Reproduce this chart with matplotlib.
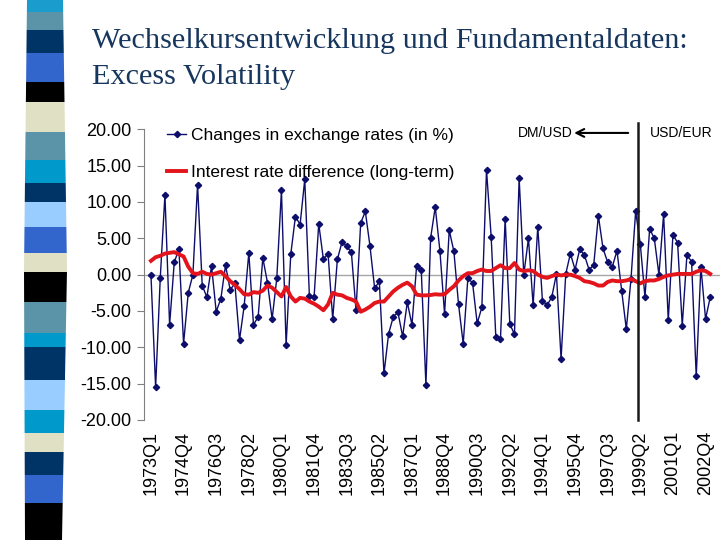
import matplotlib
matplotlib.use("Agg")
import matplotlib.pyplot as plt
import numpy as np
from matplotlib.patches import Polygon

plt.rcParams["font.family"] = ["Liberation Sans", "DejaVu Sans"]
plt.rcParams["axes.unicode_minus"] = False

# quarterly data 1973Q1 .. 2003Q1
QUARTERS = [f"{y}Q{q}" for y in range(1973, 2004) for q in range(1, 5)][:121]

# changes in exchange rates (in %)
FX_CHANGES = [
    0.0, -15.5, -0.4, 11.0, -6.9, 1.7, 3.5, -9.5, -2.5, 0.0,
    12.4, -1.5, -3.1, 1.2, -5.1, -3.3, 1.3, -2.1, -1.2, -9.0,
    -4.3, 3.0, -6.9, -5.8, 2.3, -1.1, -6.1, -0.5, 11.6, -9.7,
    2.8, 8.0, 6.9, 13.1, -3.0, -3.1, 7.0, 2.1, 2.9, -6.1,
    2.1, 4.5, 3.9, 3.1, -4.9, 7.1, 8.7, 3.9, -1.9, -0.9,
    -13.6, -8.1, -5.8, -5.2, -8.5, -3.8, -6.9, 1.2, 0.6, -15.2,
    5.0, 9.3, 3.3, -5.4, 6.1, 3.2, -4.1, -9.5, -0.5, -1.1,
    -6.7, -4.5, 14.4, 5.2, -8.6, -8.8, 7.7, -6.8, -8.2, 13.3,
    0.0, 5.0, -4.2, 6.6, -3.6, -4.2, -3.1, 0.1, -11.6, 0.1,
    2.9, 0.7, 3.5, 2.7, 0.7, 1.3, 8.1, 3.6, 1.7, 1.1,
    3.3, -2.2, -7.5, -0.6, 8.7, 4.2, -3.1, 6.3, 5.0, 0.0,
    8.3, -6.3, 5.5, 4.4, -7.0, 2.7, 1.8, -14.0, 1.1, -6.1,
    -3.1,
]

# interest rate difference (long-term)
RATE_DIFF = [
    1.9, 2.4, 2.6, 2.9, 3.0, 3.1, 2.8, 2.5, 1.1, 0.2,
    0.1, 0.4, 0.1, 0.0, 0.2, 0.4, -0.2, -0.9, -1.4, -2.0,
    -2.7, -2.75, -2.4, -2.5, -2.2, -1.5, -1.8, -2.4, -3.0, -1.7,
    -3.0, -3.7, -3.2, -3.3, -3.7, -4.0, -4.4, -4.9, -4.1, -2.5,
    -2.75, -2.85, -3.2, -3.4, -3.7, -5.1, -4.8, -4.4, -3.9, -3.7,
    -3.7, -3.0, -2.3, -1.8, -1.4, -1.1, -1.6, -2.75, -2.85, -2.85,
    -2.8, -2.7, -2.75, -2.7, -2.1, -1.6, -0.8, -0.2, 0.2, 0.2,
    0.5, 0.7, 0.5, 0.5, 0.9, 1.3, 0.9, 0.9, 1.6, 0.7,
    0.5, 0.6, 0.5, 0.0, -0.3, -0.45, -0.2, 0.0, -0.1, 0.0,
    0.0, -0.2, -0.45, -0.9, -1.0, -1.2, -1.5, -1.5, -1.0, -0.8,
    -0.9, -0.9, -0.8, -0.6, -0.9, -1.2, -0.9, -0.8, -0.8, -0.6,
    -0.3, -0.1, 0.0, 0.1, 0.1, 0.1, 0.1, 0.4, 0.6, 0.5,
    0.1,
]

TICK_STEP = 7
SPLIT_AT = 104.6   # DM/USD -> USD/EUR (1999)

# decorative slide strip: (top px, bottom px, colour)
STRIP = [
    (0, 12, "#1a9ccc"), (12, 30, "#5b93a8"), (30, 53, "#003366"),
    (53, 82, "#3366cc"), (82, 102, "#000000"), (102, 132, "#e0e0c4"),
    (132, 160, "#5b93a8"), (160, 183, "#0099cc"), (183, 202, "#003366"),
    (202, 227, "#99ccff"), (227, 253, "#3366cc"), (253, 272, "#e0e0c4"),
    (272, 302, "#000000"), (302, 333, "#5b93a8"), (333, 347, "#0099cc"),
    (347, 380, "#003366"), (380, 410, "#99ccff"), (410, 433, "#0099cc"),
    (433, 452, "#e0e0c4"), (452, 475, "#003366"), (475, 503, "#3366cc"),
    (503, 540, "#000000"),
]

W, H = 720, 540
fig = plt.figure(figsize=(7.2, 5.4), dpi=100)

# strip edges (slightly bulging)
prof_y = [0, 270, 540]
prof_l = [27, 24, 25]
prof_r = [63, 67, 62]
for top, bot, col in STRIP:
    ys = np.linspace(top, bot, 6)
    xl = np.interp(ys, prof_y, prof_l)
    xr = np.interp(ys, prof_y, prof_r)
    pts = [(x / W, 1 - y / H) for x, y in zip(xl, ys)] + \
          [(x / W, 1 - y / H) for x, y in zip(xr[::-1], ys[::-1])]
    fig.patches.append(Polygon(pts, closed=True, transform=fig.transFigure,
                               facecolor=col, edgecolor="none"))

fig.text(92 / W, 1 - 41 / H, "Wechselkursentwicklung und Fundamentaldaten:",
         family="Liberation Serif", fontsize=21.8, color="#17365d", va="center")
fig.text(92 / W, 1 - 77 / H, "Excess Volatility",
         family="Liberation Serif", fontsize=21.8, color="#17365d", va="center")

ax = fig.add_axes([143.5 / W, 1 - 420 / H, 576.5 / W, 290.7 / H])
x = np.arange(len(FX_CHANGES))

ax.axhline(0, color="#a6a6a6", lw=1, zorder=1)
ax.plot(x, FX_CHANGES, color="#0d0d6b", lw=1, marker="D", ms=3.2,
        label="Changes in exchange rates (in %)", zorder=3)
ax.plot(x, RATE_DIFF, color="#e3141b", lw=2.8,
        label="Interest rate difference (long-term)", zorder=4)

ax.plot([SPLIT_AT, SPLIT_AT], [-20, 20.8], color="#1a1a1a", lw=1.8,
        clip_on=False, zorder=5)
ax.annotate("", xy=(SPLIT_AT - 13.8, 19.5), xytext=(SPLIT_AT - 2.2, 19.5),
            arrowprops=dict(arrowstyle="->", lw=1.5, color="black",
                            shrinkA=0, shrinkB=0, mutation_scale=14),
            annotation_clip=False)
ax.text(SPLIT_AT - 14.2, 19.5, "DM/USD", ha="right", va="center", fontsize=10)
ax.text(SPLIT_AT + 2.5, 19.5, "USD/EUR", ha="left", va="center", fontsize=10)

ax.set_xlim(-1.6, 122.1)
ax.set_ylim(-20, 20)
ax.set_yticks(np.arange(-20, 21, 5))
ax.set_yticklabels([f"{v:.2f}" for v in np.arange(-20, 21, 5)], fontsize=13)
ticks = x[::TICK_STEP][:18]
ax.set_xticks(ticks)
ax.set_xticklabels([QUARTERS[i] for i in ticks], rotation=90, fontsize=13)
ax.tick_params(axis="x", length=0, pad=8)
ax.tick_params(axis="y", direction="out", length=5, color="#808080", pad=3.5)

for s in ["top", "right", "bottom"]:
    ax.spines[s].set_visible(False)
ax.spines["left"].set_color("#808080")

ax.legend(loc="upper left", bbox_to_anchor=(0.041, 1.004), frameon=False,
          fontsize=12.5, handlelength=1.1, handletextpad=0.25,
          labelspacing=1.25, borderpad=0, borderaxespad=0)

fig.savefig("out.png", dpi=100)
